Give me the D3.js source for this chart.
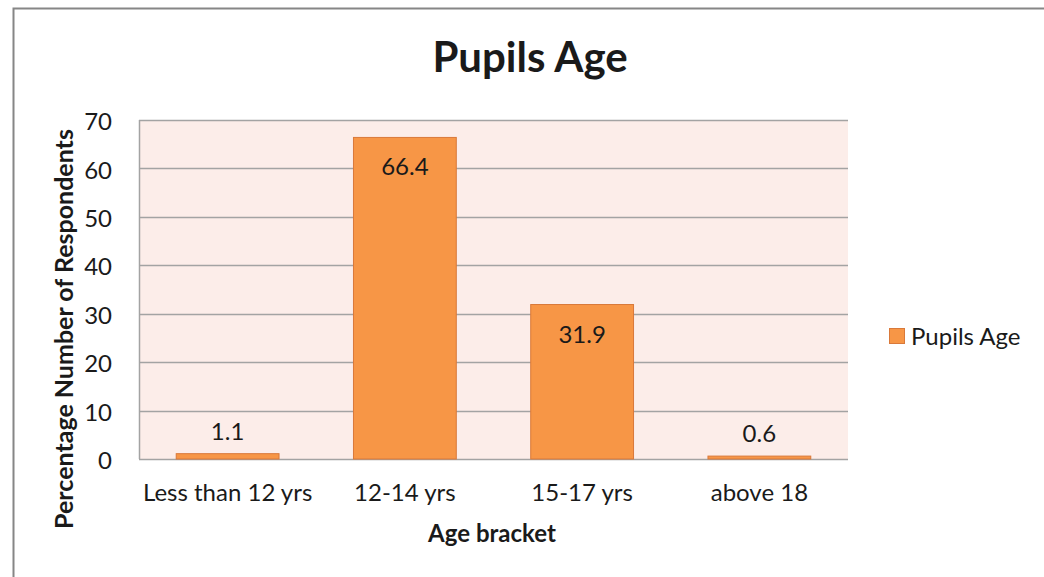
<!DOCTYPE html>
<html>
<head>
<meta charset="utf-8">
<script src="https://cdn.jsdelivr.net/npm/d3@7"></script>
<style>
  body { margin: 0; background: #fff; }
  text { font-family: Lato, "Open Sans", sans-serif; fill: #1a1a1a; }
</style>
</head>
<body>
<svg id="grafico"></svg>
<script>
const categorias = ["Less than 12 yrs", "12-14 yrs", "15-17 yrs", "above 18"];
const valores = [1.1, 66.4, 31.9, 0.6];
const ticksY = [0, 10, 20, 30, 40, 50, 60, 70];
const nomeSerie = "Pupils Age";

const largura = 1044;
const altura = 577;
const margem = { top: 120, right: 196, bottom: 118, left: 139 };

const svg = d3.select("#grafico")
  .attr("width", largura)
  .attr("height", altura);

// moldura do gráfico
svg.append("rect")
  .attr("x", 13.5).attr("y", 8.5)
  .attr("width", 1100).attr("height", 700)
  .attr("fill", "#fff")
  .attr("stroke", "#868686")
  .attr("stroke-width", 2);

// Escalas
const x = d3.scaleBand()
  .domain(categorias)
  .range([margem.left, largura - margem.right])
  .paddingInner(0.42)
  .paddingOuter(0.21);

const y = d3.scaleLinear()
  .domain([0, 70])
  .range([altura - margem.bottom, margem.top]);

// fundo da área de plotagem
svg.append("rect")
  .attr("x", margem.left)
  .attr("y", margem.top)
  .attr("width", largura - margem.right - margem.left)
  .attr("height", y(0) - y(70))
  .attr("fill", "#fcede9");

// grade
svg.append("g")
  .selectAll("line")
  .data(ticksY)
  .join("line")
  .attr("x1", margem.left)
  .attr("x2", largura - margem.right)
  .attr("y1", d => Math.round(y(d)) + 0.5)
  .attr("y2", d => Math.round(y(d)) + 0.5)
  .attr("stroke", "#a3a3a3")
  .attr("stroke-width", 1.5);

// eixo Y
svg.append("line")
  .attr("x1", margem.left + 0.5).attr("x2", margem.left + 0.5)
  .attr("y1", y(70)).attr("y2", y(0))
  .attr("stroke", "#a3a3a3").attr("stroke-width", 1.5);

svg.append("g")
  .attr("transform", `translate(${margem.left}, 0)`)
  .call(d3.axisLeft(y).tickValues(ticksY).tickSize(0).tickPadding(27))
  .call(g => g.select(".domain").remove())
  .call(g => g.selectAll("text")
    .attr("dy", "0.4em")
    .style("font-size", "24px")
    .attr("fill", "#1a1a1a")
    .style("font-family", "Lato, sans-serif"));

// eixo X
svg.append("g")
  .attr("transform", `translate(0, ${y(0)})`)
  .call(d3.axisBottom(x).tickSize(0))
  .call(g => g.select(".domain").remove())
  .call(g => g.selectAll("text")
    .attr("y", 42)
    .attr("dy", null)
    .style("font-size", "24px")
    .attr("fill", "#1a1a1a")
    .style("font-family", "Lato, sans-serif"));

// Barras
svg.append("g")
  .selectAll("rect")
  .data(valores)
  .join("rect")
  .attr("x", (d, i) => x(categorias[i]))
  .attr("y", d => y(d))
  .attr("width", x.bandwidth())
  .attr("height", d => y(0) - y(d))
  .attr("fill", "#f79646")
  .attr("stroke", "#d9793a")
  .attr("stroke-width", 1);

// rótulos de valor
svg.append("g")
  .selectAll("text")
  .data(valores)
  .join("text")
  .attr("x", (d, i) => x(categorias[i]) + x.bandwidth() / 2)
  .attr("y", d => (y(0) - y(d) > 45) ? y(d) + 38 : y(d) - 14)
  .attr("text-anchor", "middle")
  .style("font-size", "24px")
  .text(d => d);

// Título
svg.append("text")
  .attr("x", 530)
  .attr("y", 72)
  .attr("text-anchor", "middle")
  .style("font-size", "42px")
  .style("font-weight", "bold")
  .attr("fill", "#000")
  .text("Pupils Age");

// títulos dos eixos
svg.append("text")
  .attr("x", 492)
  .attr("y", 542)
  .attr("text-anchor", "middle")
  .style("font-size", "24px")
  .style("font-weight", "bold")
  .attr("fill", "#404040")
  .text("Age bracket");

svg.append("text")
  .attr("transform", "translate(73, 329) rotate(-90)")
  .attr("text-anchor", "middle")
  .style("font-size", "25px")
  .style("font-weight", "bold")
  .attr("fill", "#404040")
  .text("Percentage Number of Respondents");

// Legenda
svg.append("rect")
  .attr("x", 889.5).attr("y", 328.5)
  .attr("width", 15).attr("height", 15)
  .attr("fill", "#f79646")
  .attr("stroke", "#d9793a");

svg.append("text")
  .attr("x", 911)
  .attr("y", 345)
  .style("font-size", "24px")
  .text(nomeSerie);
</script>
</body>
</html>
